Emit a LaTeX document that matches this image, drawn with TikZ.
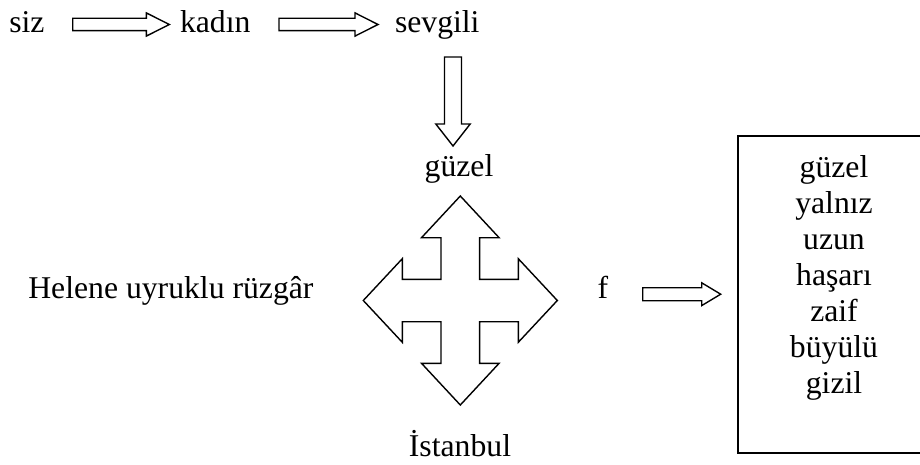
\documentclass[tikz,border=0pt]{standalone}
\usepackage{fontspec}
\setmainfont{Liberation Serif}
\usetikzlibrary{calc}

\tikzset{
  word/.style={font=\fontsize{31.7}{36}\selectfont, inner sep=0pt, outer sep=0pt},
  hollow/.style={draw=black, fill=white, line width=1.4pt, line join=miter},
  frame/.style={draw=black, line width=2pt, inner sep=0pt},
}

% Outlined block arrow: #1 tail, #2 tip, #3 shaft half-width,
% #4 head half-width, #5 head length
\newcommand\blockarrow[5]{%
  \coordinate (hb) at ($(#2)!#5!(#1)$);
  \draw[hollow] ($(#1)!#3!90:(#2)$) -- ($(hb)!#3!90:(#2)$)
    -- ($(hb)!#4!90:(#2)$) -- (#2) -- ($(hb)!#4!-90:(#2)$)
    -- ($(hb)!#3!-90:(#2)$) -- ($(#1)!#3!-90:(#2)$) -- cycle;
}

\begin{document}
\begin{tikzpicture}[x=1pt, y=-1pt]
  \fill[white] (0,0) rectangle (920,465);
  \useasboundingbox (0,0) rectangle (920,465);

  % top chain
  \node[word, anchor=base west] (siz) at (9.3,33) {siz};
  \node[word, anchor=base west] (kadin) at (180,33) {kadın};
  \node[word, anchor=base west] (sevgili) at (395,33) {sevgili};
  \node[word, anchor=base] (guzel) at (459,176) {güzel};

  \coordinate (a1s) at (72.7,24.5);  \coordinate (a1e) at (169.3,24.5);
  \coordinate (a2s) at (279,24.5);   \coordinate (a2e) at (378,24.5);
  \coordinate (a3s) at (453,57);     \coordinate (a3e) at (453,146);
  \blockarrow{a1s}{a1e}{6.2pt}{11.6pt}{23pt}
  \blockarrow{a2s}{a2e}{6.2pt}{11.6pt}{23pt}
  \blockarrow{a3s}{a3e}{8.5pt}{17.2pt}{22pt}

  % four-way arrow
  \coordinate (cc) at (460.3,300.5);
  \begin{scope}[shift={(cc)}]
    \draw[hollow] (0,-104.5) -- (38.8,-62.8) -- (19.3,-62.8) -- (19.3,-21.2)
      -- (58,-21.2) -- (58,-41.8) -- (97,0) -- (58,41.8) -- (58,21.2)
      -- (19.3,21.2) -- (19.3,62.8) -- (38.8,62.8) -- (0,104.5)
      -- (-38.8,62.8) -- (-19.3,62.8) -- (-19.3,21.2) -- (-58,21.2)
      -- (-58,41.8) -- (-97,0) -- (-58,-41.8) -- (-58,-21.2)
      -- (-19.3,-21.2) -- (-19.3,-62.8) -- (-38.8,-62.8) -- cycle;
  \end{scope}

  \node[word, anchor=base west] (helene) at (28.3,298.3) {Helene uyruklu rüzgâr};
  \node[word, anchor=base west] (f) at (597.5,298.3) {f};
  \node[word, anchor=base] (istanbul) at (460,456.7) {İstanbul};

  % word list box
  \node[frame, minimum width=187.5pt, minimum height=316.5pt] (box) at (831.25,294.75) {};
  \foreach \w [count=\i] in {güzel,yalnız,uzun,haşarı,zaif,büyülü,gizil}
    \node[word, anchor=base] (w\i) at (834,{177.3+36*(\i-1)}) {\w};

  \coordinate (a4s) at (642.7,294.2); \coordinate (a4e) at (720.7,294.2);
  \blockarrow{a4s}{a4e}{6.5pt}{11.4pt}{19pt}
\end{tikzpicture}
\end{document}
